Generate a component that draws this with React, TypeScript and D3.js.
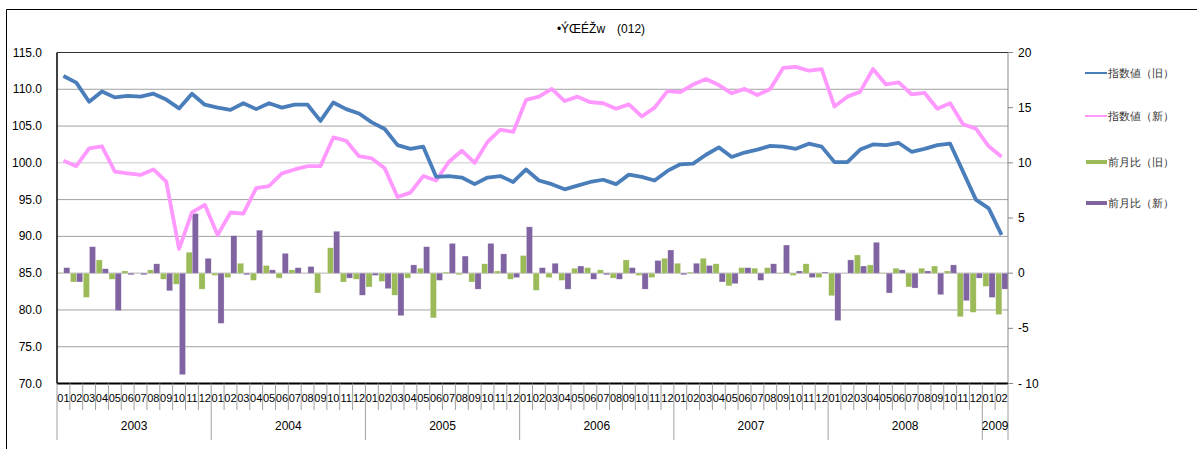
import React from "react";
import * as d3 from "d3";

const years = ["2003", "2004", "2005", "2006", "2007", "2008", "2009"];
const monthsPerYear = [12, 12, 12, 12, 12, 12, 2];
const monthLabels: string[] = [];
monthsPerYear.forEach((n) => {
  for (let m = 1; m <= n; m++) monthLabels.push(String(m).padStart(2, "0"));
});

const indexOld = [
  111.8, 110.9, 108.3, 109.7, 108.9, 109.1, 109.0, 109.4, 108.6, 107.4, 109.4, 107.9,
  107.5, 107.2, 108.1, 107.3, 108.1, 107.5, 107.9, 107.9, 105.7, 108.2, 107.3, 106.7,
  105.5, 104.6, 102.4, 101.9, 102.2, 98.1, 98.2, 98.0, 97.1, 98.0, 98.2, 97.4,
  99.1, 97.6, 97.1, 96.4, 96.9, 97.4, 97.7, 97.1, 98.4, 98.1, 97.6, 98.9,
  99.8, 99.9, 101.1, 102.1, 100.8, 101.4, 101.8, 102.3, 102.2, 101.9, 102.6, 102.2,
  100.1, 100.1, 101.8, 102.5, 102.4, 102.7, 101.5, 101.9, 102.4, 102.6, 98.8, 95.0,
  93.8, 90.2,
];

const indexNew = [
  10.2, 9.7, 11.3, 11.5, 9.2, 9.05, 8.9, 9.4, 8.3, 2.2, 5.5, 6.2,
  3.45, 5.5, 5.4, 7.7, 7.9, 9.05, 9.4, 9.7, 9.7, 12.3, 12.0, 10.6,
  10.4, 9.5, 6.9, 7.3, 8.8, 8.4, 10.1, 11.1, 10.0, 11.9, 13.0, 12.8,
  15.7, 16.0, 16.7, 15.6, 16.0, 15.5, 15.4, 14.9, 15.3, 14.2, 15.0, 16.5,
  16.4, 17.1, 17.6, 17.05, 16.3, 16.7, 16.15, 16.7, 18.6, 18.7, 18.35, 18.5,
  15.1, 16.0, 16.45, 18.5, 17.1, 17.3, 16.2, 16.35, 14.9, 15.4, 13.5, 13.1,
  11.5, 10.55,
];

const momOld = [
  0.05, -0.8, -2.2, 1.2, -0.55, 0.2, 0.0, 0.3, -0.55, -1.0, 1.9, -1.45,
  -0.2, -0.4, 0.9, -0.65, 0.7, -0.45, 0.3, 0.0, -1.8, 2.3, -0.8, -0.55,
  -1.25, -0.75, -2.0, -0.45, 0.45, -4.05, 0.1, -0.15, -0.8, 0.85, 0.2, -0.55,
  1.6, -1.55, -0.4, -0.65, 0.45, 0.5, 0.3, -0.45, 1.2, -0.2, -0.4, 1.35,
  0.9, 0.1, 1.35, 0.85, -1.15, 0.5, 0.45, 0.5, -0.05, -0.2, 0.85, -0.4,
  -2.05, 0.0, 1.65, 0.75, -0.05, 0.45, -1.25, 0.45, 0.65, 0.2, -3.95, -3.55,
  -1.2, -3.75,
];

const momNew = [
  0.5, -0.8, 2.4, 0.4, -3.4, -0.15, -0.15, 0.85, -1.6, -9.2, 5.4, 1.35,
  -4.55, 3.4, -0.15, 3.9, 0.3, 1.8, 0.5, 0.6, 0.0, 3.8, -0.45, -2.0,
  -0.2, -1.4, -3.85, 0.75, 2.4, -0.65, 2.7, 1.55, -1.45, 2.7, 1.75, -0.4,
  4.2, 0.5, 0.9, -1.45, 0.65, -0.55, -0.15, -0.55, 0.5, -1.45, 1.15, 2.1,
  -0.15, 0.9, 0.7, -0.8, -0.95, 0.5, -0.65, 0.85, 2.55, 0.2, -0.4, 0.1,
  -4.3, 1.2, 0.65, 2.8, -1.8, 0.3, -1.35, 0.2, -1.95, 0.75, -2.5, -0.45,
  -2.2, -1.45,
];

const leftTicks = [70, 75, 80, 85, 90, 95, 100, 105, 110, 115];
const rightTicks = [-10, -5, 0, 5, 10, 15, 20];
const rightTickLabels = ["- 10", "-5", "0", "5", "10", "15", "20"];
const seriesNames = ["指数値（旧）", "指数値（新）", "前月比（旧）", "前月比（新）"];
const titleText = "•ÝŒÉŽw　(012)";

const W = 1197;
const H = 449;
const X0 = 57;
const X1 = 1008;
const Y0 = 52.5;
const Y1 = 383.5;
const FONT = "'Liberation Sans', Arial, sans-serif";

const C_BLUE = "#4a7ebb";
const C_PINK = "#ff99ff";
const C_GREEN = "#9bbb59";
const C_PURPLE = "#8064a2";

export default function App() {
  const n = monthLabels.length;
  const x = d3.scaleBand<number>().domain(d3.range(n)).range([X0, X1]).padding(0);
  const bw = x.bandwidth();
  const yL = d3.scaleLinear().domain([70, 115]).range([Y1, Y0]);
  const yR = d3.scaleLinear().domain([-10, 20]).range([Y1, Y0]);
  const cx = (i: number) => (x(i) as number) + bw / 2;

  const lineL = d3.line<number>().x((_, i) => cx(i)).y((d) => yL(d));
  const lineR = d3.line<number>().x((_, i) => cx(i)).y((d) => yR(d));

  const yearStarts: number[] = [];
  let acc = 0;
  monthsPerYear.forEach((m) => {
    yearStarts.push(acc);
    acc += m;
  });

  const barRect = (v: number, xs: number, w: number, color: string, key: string) => {
    const y0 = yR(0);
    const yv = yR(v);
    return (
      <rect
        key={key}
        x={xs}
        y={Math.min(y0, yv)}
        width={w}
        height={Math.max(Math.abs(yv - y0), 0.01)}
        fill={color}
        stroke="#ffffff"
        strokeOpacity={0.55}
        strokeWidth={0.5}
      />
    );
  };

  return (
    <svg
      width={W}
      height={H}
      style={{ position: "absolute", left: 0, top: 0, background: "#fff" }}
      fontFamily={FONT}
    >
      <rect x={0} y={0} width={W} height={H} fill="#fff" />
      {/* outer chart border */}
      <path d={`M6.5,${H} V9.5 H${W}`} fill="none" stroke="#000" strokeWidth={1} />

      {/* title */}
      <text x={601} y={33} textAnchor="middle" fontSize={12} fill="#000">
        {titleText}
      </text>

      {/* gridlines */}
      {leftTicks.map((t) => (
        <line
          key={"g" + t}
          x1={X0}
          x2={X1}
          y1={yL(t)}
          y2={yL(t)}
          stroke={t === 100 ? "#c8c8c8" : "#a0a0a0"}
          strokeWidth={1}
        />
      ))}

      {/* bars */}
      {momOld.map((v, i) => barRect(v, (x(i) as number) + 0.6, bw / 2 - 0.3, C_GREEN, "o" + i))}
      {momNew.map((v, i) => barRect(v, (x(i) as number) + bw / 2 + 0.3, bw / 2 - 0.3, C_PURPLE, "n" + i))}

      {/* lines */}
      <path d={lineR(indexNew) || ""} fill="none" stroke={C_PINK} strokeWidth={3.8} strokeLinejoin="round" />
      <path d={lineL(indexOld) || ""} fill="none" stroke={C_BLUE} strokeWidth={3.8} strokeLinejoin="round" />

      {/* plot frame */}
      <line x1={X0} x2={X1} y1={Y0} y2={Y0} stroke="#333" strokeWidth={1} />
      <line x1={X0} x2={X0} y1={Y0} y2={Y1} stroke="#000" strokeWidth={1.5} />
      <line x1={X1} x2={X1} y1={Y0} y2={Y1} stroke="#888" strokeWidth={1} />
      <line x1={X0} x2={X1} y1={Y1} y2={Y1} stroke="#000" strokeWidth={2} />

      {/* left axis labels */}
      {leftTicks.map((t) => (
        <text key={"l" + t} x={42} y={yL(t) + 4} textAnchor="end" fontSize={12} fill="#000">
          {t.toFixed(1)}
        </text>
      ))}

      {/* right axis ticks & labels */}
      {rightTicks.map((t, k) => (
        <g key={"r" + t}>
          <line x1={X1} x2={X1 + 5} y1={yR(t)} y2={yR(t)} stroke="#888" strokeWidth={1} />
          <text x={1018} y={yR(t) + 4} textAnchor="start" fontSize={12} fill="#000">
            {rightTickLabels[k]}
          </text>
        </g>
      ))}

      {/* x axis: month ticks */}
      {d3.range(n + 1).map((i) => {
        const xx = i < n ? (x(i) as number) : X1;
        const isYear = yearStarts.includes(i) || i === n;
        return (
          <line
            key={"t" + i}
            x1={xx}
            x2={xx}
            y1={Y1}
            y2={isYear ? 440 : 410}
            stroke="#a0a0a0"
            strokeWidth={1}
          />
        );
      })}
      {monthLabels.map((m, i) => (
        <text key={"m" + i} x={cx(i)} y={402} textAnchor="middle" fontSize={11} fill="#000">
          {m}
        </text>
      ))}
      {years.map((yStr, k) => {
        const s = yearStarts[k];
        const e = s + monthsPerYear[k];
        const mid = ((x(s) as number) + (e < n ? (x(e) as number) : X1)) / 2;
        return (
          <text key={"y" + yStr} x={mid} y={430} textAnchor="middle" fontSize={12} fill="#000">
            {yStr}
          </text>
        );
      })}

      {/* legend */}
      <g>
        <line x1={1085} x2={1107} y1={73} y2={73} stroke={C_BLUE} strokeWidth={2} />
        <text x={1108} y={77} fontSize={11} fill="#333">{seriesNames[0]}</text>
        <line x1={1085} x2={1107} y1={116} y2={116} stroke={C_PINK} strokeWidth={2} />
        <text x={1108} y={120} fontSize={11} fill="#333">{seriesNames[1]}</text>
        <rect x={1086} y={160} width={21} height={4} fill={C_GREEN} />
        <text x={1108} y={166} fontSize={11} fill="#333">{seriesNames[2]}</text>
        <rect x={1086} y={201} width={21} height={4} fill={C_PURPLE} />
        <text x={1108} y={207} fontSize={11} fill="#333">{seriesNames[3]}</text>
      </g>
    </svg>
  );
}
